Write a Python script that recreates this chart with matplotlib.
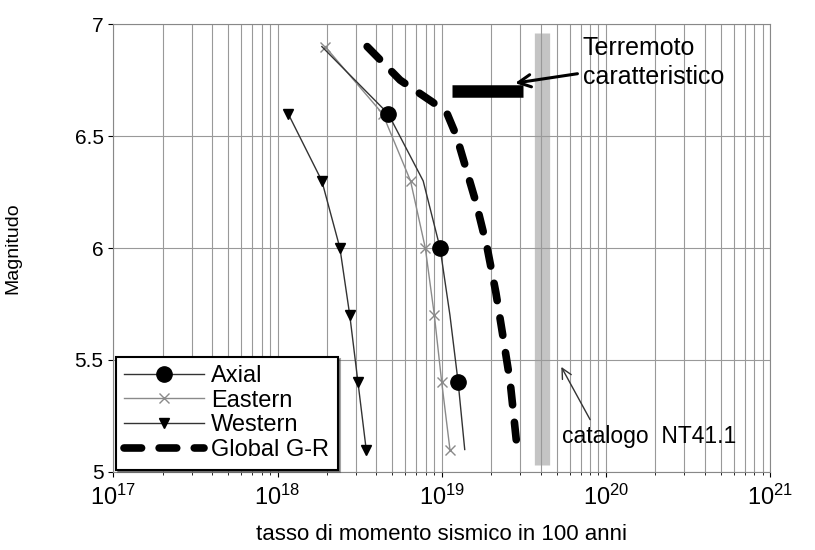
import numpy as np
import matplotlib.pyplot as plt

plt.rcParams['font.family'] = ['Liberation Sans', 'DejaVu Sans']

mag = [6.9, 6.6, 6.3, 6.0, 5.7, 5.4, 5.1]
axial_log = [18.27, 18.674, 18.887, 18.99, 19.05, 19.10, 19.14]
eastern_log = [18.29, 18.64, 18.81, 18.90, 18.955, 19.00, 19.05]
western_mag = [6.6, 6.3, 6.0, 5.7, 5.4, 5.1]
western_log = [18.065, 18.27, 18.38, 18.44, 18.49, 18.54]
gr_mag = [6.9, 6.75, 6.65, 6.6, 6.5, 6.4, 6.2, 6.0, 5.8, 5.6, 5.4, 5.1]
gr_log = [18.546, 18.747, 18.948, 19.033, 19.09, 19.13, 19.21, 19.277, 19.33, 19.374, 19.417, 19.46]
char_mag = 6.7
char_log = (19.064, 19.496)
cat_log = 19.61
cat_mag = (5.03, 6.96)

fig = plt.figure(figsize=(8.15, 5.5), dpi=100)
ax = fig.add_axes([0.139, 0.142, 0.806, 0.814])

ax.set_xscale('log')
ax.set_xlim(1e17, 1e21)
ax.set_ylim(5, 7)

ax.grid(True, which='both', axis='x', color='#999999', lw=0.8)
ax.grid(True, which='major', axis='y', color='#999999', lw=0.8)

p = lambda v: 10 ** np.array(v)

ax.plot(p(eastern_log), mag, color='#8a8a8a', lw=1, marker='x', ms=7, mew=1,
        label='Eastern')
ax.plot(p(axial_log), mag, color='#333333', lw=1, marker='o', ms=11,
        markevery=[1, 3, 5], mfc='black', mec='black', label='Axial')
ax.plot(p(western_log), western_mag, color='#333333', lw=1, marker='v', ms=7,
        mfc='black', mec='black', label='Western')
ax.plot(p(gr_log), gr_mag, color='black', lw=5.5, ls=(0, (2.3, 2.3)),
        dash_capstyle='round', label='Global G-R')

# characteristic earthquake bar
ax.plot(p(char_log), [char_mag, char_mag], color='black', lw=9,
        solid_capstyle='butt')
# catalogue bar
ax.plot([10 ** cat_log] * 2, cat_mag, color='#c4c4c4', lw=11,
        solid_capstyle='butt', zorder=1.5)

ax.annotate('Terremoto\ncaratteristico', xy=(10 ** 19.43, 6.735),
            xytext=(10 ** 19.86, 6.83), fontsize=18, va='center', ha='left',
            linespacing=1.25,
            arrowprops=dict(arrowstyle='->', color='black', lw=2.2,
                            mutation_scale=22))
ax.annotate('catalogo  NT41.1', xy=(10 ** 19.72, 5.48),
            xytext=(10 ** 19.73, 5.21), fontsize=16.5, va='top', ha='left',
            arrowprops=dict(arrowstyle='->', color='#333333', lw=1,
                            mutation_scale=18, shrinkA=2, relpos=(0.18, 1)))

h, l = ax.get_legend_handles_labels()
order = [1, 0, 2, 3]
leg = ax.legend([h[i] for i in order], [l[i] for i in order], loc='lower left',
                fontsize=17, frameon=True, fancybox=False, shadow=True,
                borderaxespad=0.1, handlelength=3.4, handletextpad=0.3,
                labelspacing=0.12, borderpad=0.35)
leg.get_frame().set_edgecolor('black')
leg.get_frame().set_linewidth(1.5)

ax.set_yticks([5, 5.5, 6, 6.5, 7])
ax.set_yticklabels(['5', '5.5', '6', '6.5', '7'])
ax.tick_params(axis='both', labelsize=15)
ax.tick_params(axis='x', labelsize=17, pad=6)
ax.set_xlabel('tasso di momento sismico in 100 anni', fontsize=16, labelpad=10)
ax.set_ylabel('Magnitudo', fontsize=14, labelpad=38)
for s in ax.spines.values():
    s.set_color('#888888')

fig.savefig('out.png', dpi=100)
